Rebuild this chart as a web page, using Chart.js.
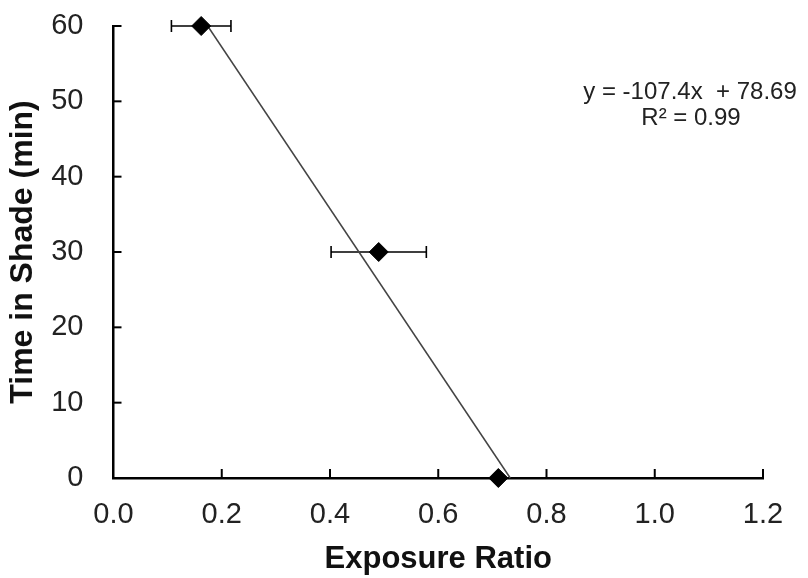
<!DOCTYPE html>
<html><head><meta charset="utf-8">
<script src="https://cdn.jsdelivr.net/npm/chart.js@4"></script>
<style>html,body{margin:0;padding:0;background:#fff}#wrap{width:808px;height:578px}</style>
</head><body><div id="wrap"><canvas id="c" width="808" height="578"></canvas></div>
<script>
// ---- data ----
const xValues = [0.162, 0.490, 0.711];
const yValues = [60, 30, 0];
const xErrors = [0.055, 0.088, 0];
const trendX = [0.174, 0.733];
const trendY = [60, 0];
const xTickLabels = ['0.0', '0.2', '0.4', '0.6', '0.8', '1.0', '1.2'];
const yTickLabels = ['0', '10', '20', '30', '40', '50', '60'];
const equationLines = ['y = -107.4x  + 78.69', 'R\u00B2 = 0.99'];
const xTitle = 'Exposure Ratio';
const yTitle = 'Time in Shade (min)';

const FONT = '"Liberation Sans", Arial, sans-serif';

const innerTicks = {
  id: 'innerTicks',
  beforeDatasetsDraw(chart) {
    const ctx = chart.ctx, xs = chart.scales.x, ys = chart.scales.y;
    const ay = ys.getPixelForValue(0), ax = xs.getPixelForValue(0);
    ctx.save();
    ctx.strokeStyle = '#000';
    ctx.lineWidth = 2;
    xs.ticks.forEach(t => {
      const px = xs.getPixelForValue(t.value);
      if (Math.abs(px - ax) < 1) return;
      ctx.beginPath(); ctx.moveTo(px, ay); ctx.lineTo(px, ay - 9); ctx.stroke();
    });
    ys.ticks.forEach(t => {
      const py = ys.getPixelForValue(t.value);
      if (Math.abs(py - ay) < 1) return;
      ctx.beginPath(); ctx.moveTo(ax, py); ctx.lineTo(ax + 8, py); ctx.stroke();
    });
    // error bars
    ctx.lineWidth = 1.6;
    xValues.forEach((x, i) => {
      const e = xErrors[i];
      if (!e) return;
      const l = xs.getPixelForValue(x - e), r = xs.getPixelForValue(x + e);
      const py = ys.getPixelForValue(yValues[i]);
      ctx.beginPath();
      ctx.moveTo(l, py); ctx.lineTo(r, py);
      ctx.moveTo(l, py - 6); ctx.lineTo(l, py + 6);
      ctx.moveTo(r, py - 6); ctx.lineTo(r, py + 6);
      ctx.stroke();
    });
    ctx.restore();
  },
  afterDraw(chart) {
    const ctx = chart.ctx;
    ctx.save();
    ctx.fillStyle = '#222';
    ctx.font = '24px ' + FONT;
    ctx.textAlign = 'center';
    ctx.textBaseline = 'alphabetic';
    ctx.fillText(equationLines[0], 690, 99);
    ctx.fillText(equationLines[1], 691, 125);
    ctx.restore();
  }
};

new Chart(document.getElementById('c'), {
  type: 'scatter',
  data: {
    datasets: [
      {
        label: 'Data',
        data: xValues.map((x, i) => ({ x: x, y: yValues[i] })),
        pointStyle: 'rectRot',
        pointRadius: 9.5,
        backgroundColor: '#000',
        borderColor: '#000',
        borderWidth: 1,
        showLine: false,
        clip: false,
        order: 1
      },
      {
        label: 'Trend',
        type: 'line',
        data: trendX.map((x, i) => ({ x: x, y: trendY[i] })),
        borderColor: '#444',
        borderWidth: 1.5,
        pointRadius: 0,
        fill: false,
        clip: false,
        order: 2
      }
    ]
  },
  options: {
    responsive: false,
    animation: false,
    devicePixelRatio: 1,
    layout: { padding: { left: 0, right: 45, top: 26, bottom: 0 } },
    plugins: { legend: { display: false }, tooltip: { enabled: false } },
    scales: {
      x: {
        type: 'linear', min: 0, max: 1.2,
        grid: { display: false, drawTicks: false },
        border: { display: true, color: '#000', width: 2.5 },
        ticks: {
          stepSize: 0.2, color: '#222', padding: 20,
          font: { family: FONT, size: 29 },
          callback: v => xTickLabels[Math.round(v / 0.2)]
        },
        title: { display: true, text: xTitle, color: '#111', padding: { top: 0, bottom: 0 },
          font: { family: FONT, size: 31, weight: 'bold' } },
        afterFit: s => { s.height = 100; s.paddingLeft = 0; s.paddingRight = 0; }
      },
      y: {
        type: 'linear', min: 0, max: 60,
        grid: { display: false, drawTicks: false },
        border: { display: true, color: '#000', width: 2.5 },
        ticks: {
          stepSize: 5, color: '#222', padding: 30,
          font: { family: FONT, size: 29 },
          callback: v => (v % 10 === 0 ? yTickLabels[v / 10] : '')
        },
        title: { display: true, text: yTitle, color: '#111', padding: { top: 4, bottom: 0 },
          font: { family: FONT, size: 32, weight: 'bold' } },
        afterFit: s => { s.width = 113.5; s.paddingTop = 0; s.paddingBottom = 0; }
      }
    }
  },
  plugins: [innerTicks]
});
</script>
</body></html>
